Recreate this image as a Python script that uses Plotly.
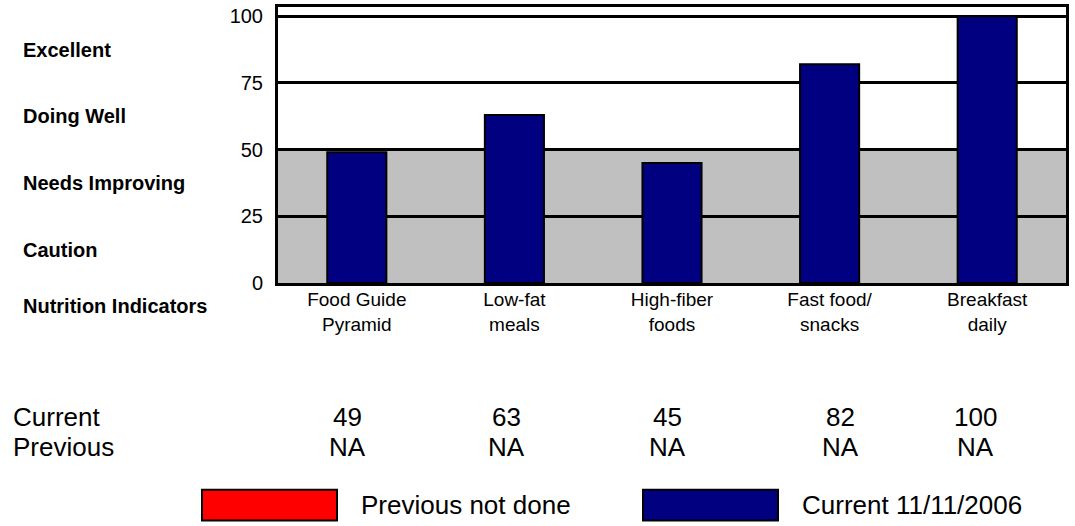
import plotly.graph_objects as go

# Nutrition indicator scores
categories = ["Food Guide<br>Pyramid", "Low-fat<br>meals", "High-fiber<br>foods",
              "Fast food/<br>snacks", "Breakfast<br>daily"]
current_scores = [49, 63, 45, 82, 100]
previous_scores = ["NA", "NA", "NA", "NA", "NA"]
band_labels = ["Excellent", "Doing Well", "Needs Improving", "Caution"]
band_mid = [87.5, 62.5, 37.5, 12.5]
row_labels = ["Current", "Previous"]
legend_labels = ["Previous not done", "Current 11/11/2006"]
legend_colors = ["#FF0000", "#000080"]

W, H = 1075, 526
L, R, T, B = 278, 9, 4, 243
PW, PH = W - L - R, H - T - B


def px(x):
    return (x - L) / PW


def py(y):
    return (H - B - y) / PH


FONT = "Arial, Liberation Sans, sans-serif"

fig = go.Figure()
fig.add_trace(go.Bar(
    x=categories, y=current_scores,
    marker=dict(color="#000080", line=dict(color="black", width=2)),
    showlegend=False, hoverinfo="x+y",
))

# Shaded lower band (0-50)
fig.add_shape(type="rect", xref="paper", yref="y", x0=0, x1=1, y0=0, y1=50,
              fillcolor="#C0C0C0", line=dict(width=0), layer="below")

annotations = []
for lab, ym in zip(band_labels, band_mid):
    annotations.append(dict(text=f"<b>{lab}</b>", xref="paper", yref="y", x=px(21), y=ym,
                            xanchor="left", yanchor="middle", showarrow=False,
                            font=dict(size=20, color="black", family=FONT)))
annotations.append(dict(text="<b>Nutrition Indicators</b>", xref="paper", yref="paper",
                        x=px(21), y=py(306), xanchor="left", yanchor="middle",
                        showarrow=False, font=dict(size=20, color="black", family=FONT)))

# Score table below the chart
row_y = [py(418), py(449)]
for lab, yy in zip(row_labels, row_y):
    annotations.append(dict(text=lab, xref="paper", yref="paper", x=px(11), y=yy,
                            xanchor="left", yanchor="middle", showarrow=False,
                            font=dict(size=26, color="black", family=FONT)))
col_shift = [-9, -8, -5, 11, -12]
for i, cat in enumerate(categories):
    for vals, yy in zip([current_scores, previous_scores], row_y):
        annotations.append(dict(text=str(vals[i]), xref="x", yref="paper", x=cat, y=yy,
                                xshift=col_shift[i], xanchor="center", yanchor="middle",
                                showarrow=False,
                                font=dict(size=26, color="black", family=FONT)))

# Legend swatches
legend_box_x = [202, 643]
for lab, col, bx in zip(legend_labels, legend_colors, legend_box_x):
    fig.add_shape(type="rect", xref="paper", yref="paper",
                  x0=px(bx), x1=px(bx + 135), y0=py(523), y1=py(492),
                  fillcolor=col, line=dict(color="black", width=2))
    annotations.append(dict(text=lab, xref="paper", yref="paper", x=px(bx + 157), y=py(507),
                            xanchor="left", yanchor="middle", showarrow=False,
                            font=dict(size=26, color="black", family=FONT)))

fig.update_layout(
    width=W, height=H,
    margin=dict(l=L, r=R, t=T, b=B),
    paper_bgcolor="white", plot_bgcolor="white",
    bargap=0.625,
    annotations=annotations,
    font=dict(family=FONT, color="black"),
    xaxis=dict(showgrid=False, showline=True, linecolor="black", linewidth=3, mirror=True,
               tickfont=dict(size=19, color="black"), ticks="", ticklabelstandoff=-3,
               fixedrange=True),
    yaxis=dict(range=[0, 103.45], tickvals=[0, 25, 50, 75, 100], showgrid=True,
               gridcolor="black", gridwidth=2.5, showline=True, linecolor="black",
               linewidth=3, mirror=True, zeroline=False,
               ticks="outside", ticklen=8, tickcolor="rgba(0,0,0,0)",
               tickfont=dict(size=20, color="black"), fixedrange=True),
)

fig.write_html("out.html")
